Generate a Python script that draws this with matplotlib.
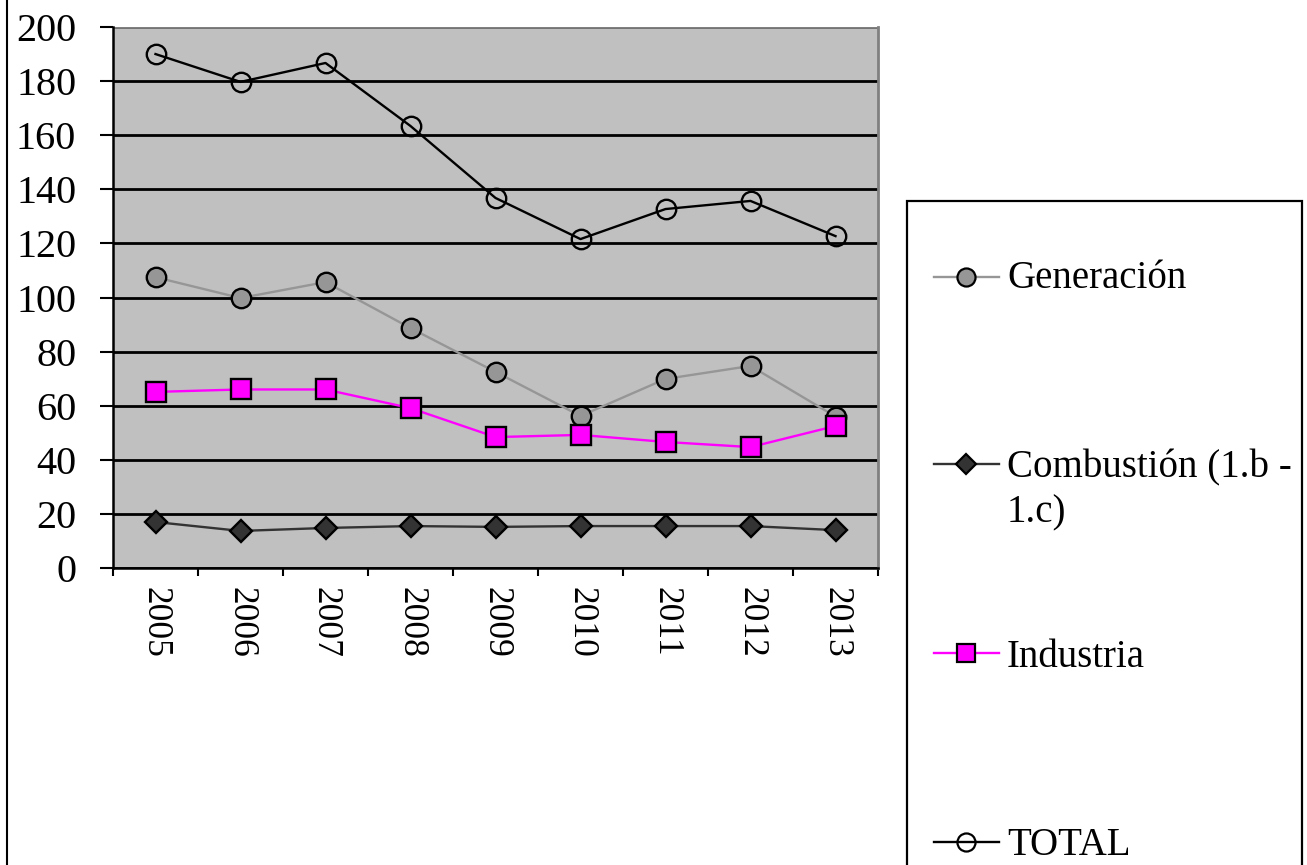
import matplotlib
matplotlib.use("Agg")
import matplotlib.pyplot as plt
from matplotlib.lines import Line2D
from matplotlib.patches import Rectangle
import numpy as np

years = ["2005", "2006", "2007", "2008", "2009", "2010", "2011", "2012", "2013"]
generacion = [107.5, 99.8, 105.7, 88.7, 72.5, 56.2, 69.9, 74.7, 56.0]
combustion = [17.0, 13.7, 14.8, 15.5, 15.2, 15.5, 15.5, 15.5, 14.0]
industria = [65.1, 66.0, 66.0, 59.1, 48.4, 49.2, 46.6, 44.7, 52.5]
total = [190.0, 179.7, 186.7, 163.4, 136.8, 121.6, 132.7, 135.7, 122.7]
yticks = [0, 20, 40, 60, 80, 100, 120, 140, 160, 180, 200]

W, H = 1307, 865
plt.rcParams['font.family'] = ['Liberation Serif', 'DejaVu Serif']
FS = 28

fig = plt.figure(figsize=(W / 100, H / 100), dpi=100)
fig.patch.set_facecolor('white')

def fx(px):
    return px / W

def fy(py):
    return 1 - py / H

ax = fig.add_axes([fx(113), fy(568), fx(878) - fx(113), fy(27) - fy(568)])
ax.set_facecolor('#C0C0C0')
x = np.arange(len(years))

series = [
    dict(label="Generación", y=generacion, color='#969696', marker='o', mfc='#969696', ms=14, lms=13),
    dict(label="Combustión (1.b -\n1.c)", y=combustion, color='#333333', marker='D', mfc='#333333', ms=11, lms=10.5),
    dict(label="Industria", y=industria, color='#FF00FF', marker='s', mfc='#FF00FF', ms=14, lms=12.5),
    dict(label="TOTAL", y=total, color='black', marker='o', mfc='none', ms=14, lms=13),
]
for s in series:
    ax.plot(x, s['y'], color=s['color'], lw=1.7, marker=s['marker'],
            mfc=s['mfc'], mec='black', mew=1.7, ms=s['ms'], zorder=3)

ax.set_xlim(-0.5, len(years) - 0.5)
ax.set_ylim(0, 200)
ax.set_yticks(yticks)
ax.set_yticklabels([str(v) for v in yticks], fontsize=29)
ax.yaxis.grid(True, color='black', lw=2)
ax.set_axisbelow(True)
ax.tick_params(axis='y', direction='out', length=9.5, width=1.5, pad=17, color='black')

ax.set_xticks(x)
ax.set_xticklabels(years, rotation=-90, fontsize=25.5)
ax.set_xticks(np.arange(-0.5, len(years)), minor=True)
ax.tick_params(axis='x', which='major', length=0, pad=14)
ax.tick_params(axis='x', which='minor', direction='out', length=6, width=1.5, color='black')

for side in ['left', 'bottom']:
    ax.spines[side].set_color('black')
    ax.spines[side].set_linewidth(1.8)
ax.spines['right'].set_color('#808080')
ax.spines['right'].set_linewidth(2)
ax.spines['top'].set_visible(False)
ax.axhline(200, color='#808080', lw=2, zorder=1)

# outer chart border on the left
fig.add_artist(Line2D([fx(7), fx(7)], [0, 1], transform=fig.transFigure, color='black', lw=1.5))

# legend
fig.add_artist(Rectangle((fx(907), -0.1), fx(1302) - fx(907), fy(201) + 0.1,
                         transform=fig.transFigure, facecolor='white', edgecolor='black', lw=1.6))
marker_y = [277, 464, 653, 842]
baseline_y = [288, 477, 667, 855]
for s, my, by in zip(series, marker_y, baseline_y):
    fig.add_artist(Line2D([fx(934), fx(999)], [fy(my), fy(my)], transform=fig.transFigure,
                          color=s['color'], lw=1.7))
    fig.add_artist(Line2D([fx(966)], [fy(my)], transform=fig.transFigure, marker=s['marker'],
                          mfc=s['mfc'], mec='black', mew=1.6, ms=s['lms'], lw=0))
    lines = s['label'].split('\n')
    for i, t in enumerate(lines):
        fig.text(fx(1007), fy(by + i * 45), t, fontsize=FS, ha='left', va='baseline')

fig.savefig('out.png', dpi=100)
